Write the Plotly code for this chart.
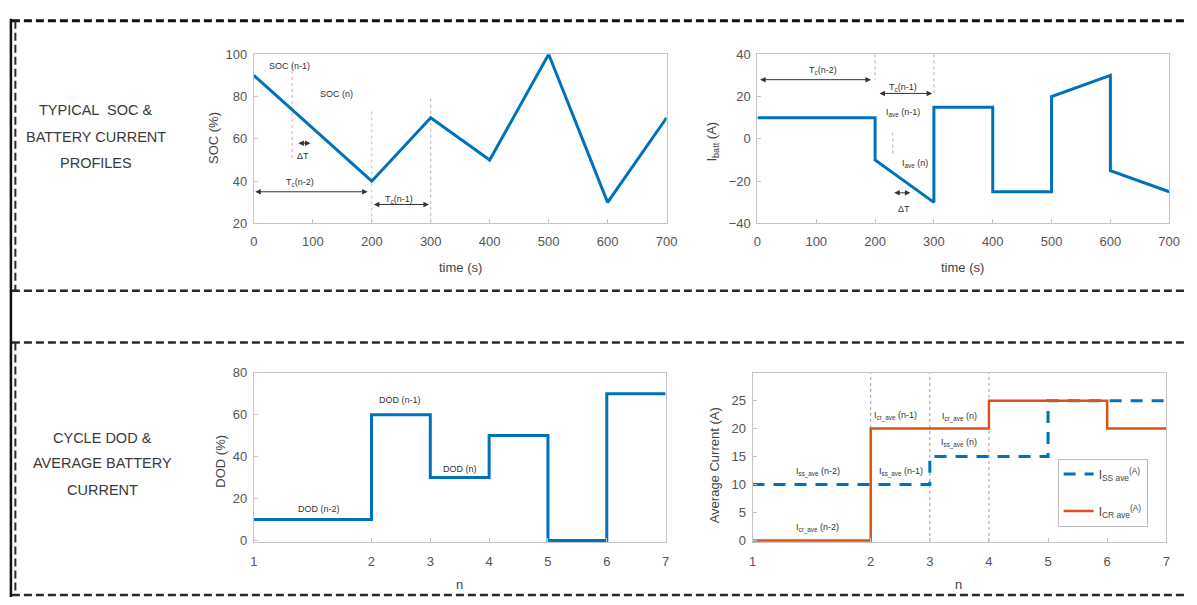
import plotly.graph_objects as go

# ---- data -------------------------------------------------------------
soc_time = [0, 200, 300, 400, 500, 600, 700]
soc_values = [90, 40, 70, 50, 100, 30, 70]

current_time = [0, 200, 200, 300, 300, 400, 400, 500, 500, 600, 600, 700]
current_values = [10, 10, -10, -30, 15, 15, -25, -25, 20, 30, -15, -25]

time_ticks = [0, 100, 200, 300, 400, 500, 600, 700]
soc_ticks = [20, 40, 60, 80, 100]
current_ticks = [-40, -20, 0, 20, 40]

# cycle axis: first interval is drawn twice as wide as the others
cycle_pos = [0, 2, 3, 4, 5, 6, 7]
cycle_labels = ["1", "2", "3", "4", "5", "6", "7"]
dod_values = [10, 60, 30, 50, 0, 70, 70]
dod_ticks = [0, 20, 40, 60, 80]
i_ss_avg = [10, 10, 15, 15, 25, 25, 25]
i_cr_avg = [0, 20, 20, 25, 25, 20, 20]
avg_ticks = [0, 5, 10, 15, 20, 25]
avg_grid_pos = [2, 3, 4]

# dimension arrows: (start, end, level)
soc_spans = [(0, 193, 35), (201, 297, 29), (73, 96, 58)]
soc_span_text = [("T<sub>c</sub>(n-2)", 79, 39.5), ("T<sub>c</sub>(n-1)", 246, 31.5),
                 ("\u0394T", 84, 52), ("SOC (n-1)", 60, 94.5), ("SOC (n)", 140, 81)]
soc_guides = [(65, 95, 50, "#e8a0a0"), (200, 73, 20, "#9fd19f"), (300, 79, 20, "#b0b0b0")]

cur_spans = [(2, 193, 28), (205, 297, 21.5), (230, 260, -25.5)]
cur_span_text = [("T<sub>c</sub>(n-2)", 112, 32.5), ("T<sub>c</sub>(n-1)", 247, 24.5),
                 ("\u0394T", 250, -33), ("I<sub>ave</sub> (n-1)", 247, 12.5),
                 ("I<sub>ave</sub> (n)", 268, -11.5)]
cur_guides = [(200, 40, 28, "#b0b0b0"), (300, 40, 21, "#b0b0b0"), (230, 3, -7, "#b0b0b0")]

dod_text = [("DOD (n-2)", 1.1, 15), ("DOD (n-1)", 2.48, 67), ("DOD (n)", 3.5, 34)]
avg_text = [("I<sub>ss_ave</sub> (n-2)", 1.1, 12.2), ("I<sub>cr_ave</sub> (n-2)", 1.1, 2.2),
            ("I<sub>cr_ave</sub> (n-1)", 2.42, 22.3), ("I<sub>ss_ave</sub> (n-1)", 2.52, 12.2),
            ("I<sub>cr_ave</sub> (n)", 3.5, 22.0), ("I<sub>ss_ave</sub> (n)", 3.5, 17.4)]

BLUE = "#0072BD"
ORANGE = "#D95319"
FONT = "Liberation Sans"
W, H = 1197, 605


def px_x(p):
    return p / W


def px_y(p):
    return 1 - p / H


fig = go.Figure()

fig.add_trace(go.Scatter(x=soc_time, y=soc_values, mode="lines",
                         line=dict(color=BLUE, width=3), showlegend=False,
                         xaxis="x", yaxis="y"))
fig.add_trace(go.Scatter(x=current_time, y=current_values, mode="lines",
                         line=dict(color=BLUE, width=3), showlegend=False,
                         xaxis="x2", yaxis="y2"))
fig.add_trace(go.Scatter(x=cycle_pos, y=dod_values, mode="lines",
                         line=dict(color=BLUE, width=3, shape="hv"), showlegend=False,
                         xaxis="x3", yaxis="y3"))
fig.add_trace(go.Scatter(x=cycle_pos, y=i_ss_avg, mode="lines",
                         name="I<sub>SS ave</sub><sup>(A)</sup>", legendgroup="ss",
                         line=dict(color=BLUE, width=3, shape="hv", dash="12px,9px"),
                         xaxis="x4", yaxis="y4"))
fig.add_trace(go.Scatter(x=cycle_pos, y=i_cr_avg, mode="lines",
                         name="I<sub>CR ave</sub><sup>(A)</sup>", legendgroup="cr",
                         line=dict(color=ORANGE, width=2.5, shape="hv"),
                         xaxis="x4", yaxis="y4"))

tickfont = dict(family=FONT, size=13, color="#555555")
base = dict(showline=True, linecolor="#c4c4c4", linewidth=1, mirror=True,
            ticks="inside", ticklen=4, tickcolor="#c4c4c4", showgrid=False,
            zeroline=False, tickfont=tickfont)

top_y = [px_y(222), px_y(48.5)]
# lower row extends a hair below zero so the zero-level steps are not clipped
bot_y = [px_y(548.5), px_y(375)]

fig.update_layout(
    width=W, height=H, margin=dict(l=0, r=0, t=0, b=0),
    paper_bgcolor="white", plot_bgcolor="white",
    xaxis=dict(base, domain=[px_x(253), px_x(671)], range=[0, 700],
               tickvals=time_ticks, anchor="y", ticklabelstandoff=6),
    yaxis=dict(base, domain=top_y, range=[20, 100], tickvals=soc_ticks,
               anchor="x", ticklabelstandoff=3),
    xaxis2=dict(base, domain=[px_x(763), px_x(1180)], range=[0, 700],
                tickvals=time_ticks, anchor="y2", ticklabelstandoff=6),
    yaxis2=dict(base, domain=top_y, range=[-40, 40], tickvals=current_ticks,
                anchor="x2", ticklabelstandoff=3),
    xaxis3=dict(base, domain=[px_x(253), px_x(670)], range=[0, 7],
                tickvals=cycle_pos, ticktext=cycle_labels, anchor="y3",
                ticklabelstandoff=7),
    yaxis3=dict(base, domain=bot_y, range=[-0.7, 80], tickvals=dod_ticks,
                anchor="x3", ticklabelstandoff=3),
    xaxis4=dict(base, domain=[px_x(758), px_x(1177)], range=[0, 7],
                tickvals=cycle_pos, ticktext=cycle_labels, anchor="y4",
                ticklabelstandoff=7),
    yaxis4=dict(base, domain=bot_y, range=[-0.26, 30], tickvals=avg_ticks,
                anchor="x4", ticklabelstandoff=3),
    legend=dict(x=px_x(1067), y=px_y(463), xanchor="left", yanchor="top",
                bgcolor="white", bordercolor="#bdbdbd", borderwidth=1,
                font=dict(family=FONT, size=12, color="#444"),
                tracegroupgap=18, traceorder="grouped", itemwidth=30),
)

shapes = []
annotations = []

# vertical guide lines in the top panels
for t, y0, y1, c in soc_guides:
    shapes.append(dict(type="line", xref="x", yref="y", x0=t, x1=t, y0=y0, y1=y1,
                       line=dict(color=c, width=1, dash="dot"), layer="below"))
for t, y0, y1, c in cur_guides:
    shapes.append(dict(type="line", xref="x2", yref="y2", x0=t, x1=t, y0=y0, y1=y1,
                       line=dict(color=c, width=1, dash="dot"), layer="below"))
for p in avg_grid_pos:
    shapes.append(dict(type="line", xref="x4", yref="y4 domain", x0=p, x1=p, y0=0, y1=1,
                       line=dict(color="#9a9a9a", width=1, dash="dot"), layer="below"))


def span_arrow(xr, yr, a, b, lvl):
    return dict(x=b, y=lvl, ax=a, ay=lvl, xref=xr, yref=yr, axref=xr, ayref=yr,
                text="", showarrow=True, arrowside="end+start", arrowhead=2,
                arrowsize=1.1, arrowwidth=1, arrowcolor="#333333",
                standoff=0, startstandoff=0)


for a, b, lvl in soc_spans:
    annotations.append(span_arrow("x", "y", a, b, lvl))
for a, b, lvl in cur_spans:
    annotations.append(span_arrow("x2", "y2", a, b, lvl))

small = dict(family=FONT, size=9, color="#333333")


def label(txt, x, y, xr, yr, font, angle=0):
    return dict(x=x, y=y, xref=xr, yref=yr, text=txt, showarrow=False, font=font,
                xanchor="center", yanchor="middle", textangle=angle)


for txt, x, y in soc_span_text:
    annotations.append(label(txt, x, y, "x", "y", small))
for txt, x, y in cur_span_text:
    annotations.append(label(txt, x, y, "x2", "y2", small))
for txt, x, y in dod_text:
    annotations.append(label(txt, x, y, "x3", "y3", small))
for txt, x, y in avg_text:
    annotations.append(label(txt, x, y, "x4", "y4", small))

# axis titles
title_font = dict(family=FONT, size=13, color="#444444")
axis_titles = [
    ("SOC (%)", 212, 134, -90),
    ("time (s)", 462, 267, 0),
    ("I<sub>batt</sub> (A)", 718, 138, -90),
    ("time (s)", 971, 267, 0),
    ("DOD (%)", 219, 466, -90),
    ("n", 461, 592, 0),
    ("Average Current (A)", 719, 470, -90),
    ("n", 967, 592, 0),
]
for txt, x, y, ang in axis_titles:
    annotations.append(label(txt, px_x(x), px_y(y), "paper", "paper", title_font, ang))

# row captions
cap_font = dict(family=FONT, size=14.5, color="#3a3a3a")
captions = [
    ("TYPICAL  SOC &", 93, 106), ("BATTERY CURRENT", 93, 133), ("PROFILES", 93, 160),
    ("CYCLE DOD &", 100, 442), ("AVERAGE BATTERY", 100, 468), ("CURRENT", 100, 495),
]
for txt, x, y in captions:
    annotations.append(label(txt, px_x(x), px_y(y), "paper", "paper", cap_font))

# dashed frames around the two rows
frame_dash = "8px,4px"
for y, w, c in [(14, 3, "#111111"), (291, 2.5, "#2a2a2a"), (344, 2.5, "#2a2a2a"), (603, 2.5, "#2a2a2a")]:
    shapes.append(dict(type="line", xref="paper", yref="paper", x0=px_x(8), x1=1,
                       y0=px_y(y), y1=px_y(y), line=dict(color=c, width=w, dash=frame_dash)))
shapes.append(dict(type="line", xref="paper", yref="paper", x0=px_x(7), x1=px_x(7),
                   y0=px_y(12), y1=0, line=dict(color="#111111", width=2.5)))
for y0, y1 in [(14, 291), (344, 603)]:
    shapes.append(dict(type="line", xref="paper", yref="paper", x0=px_x(11.5), x1=px_x(11.5),
                       y0=px_y(y0), y1=px_y(y1),
                       line=dict(color="#2a2a2a", width=2, dash=frame_dash)))

fig.update_layout(shapes=shapes, annotations=annotations)
fig.write_html("out.html")
